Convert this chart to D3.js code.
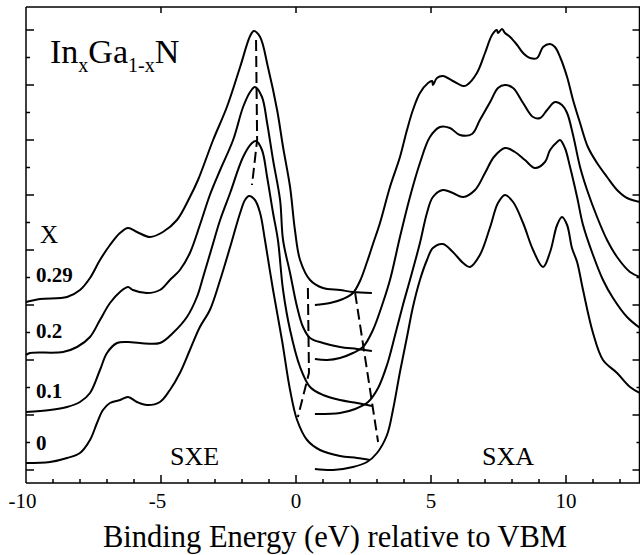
<!DOCTYPE html>
<html>
<head>
<meta charset="utf-8">
<script src="https://cdn.jsdelivr.net/npm/d3@7"></script>
<style>
  html, body { margin: 0; padding: 0; background: #fff; }
  svg { display: block; }
</style>
</head>
<body>
<svg id="chart" width="640" height="555"></svg>
<script>
// Indium content of each InxGa1-xN sample, top trace first
const composition = ["0.29", "0.2", "0.1", "0"];

// Soft X-ray emission (valence band) spectra: [energy eV, intensity (offset, arb. units)]
const sxe029 = [[-10.00,181],[-9.48,184],[-8.48,186],[-8.00,193],[-7.63,205],[-7.26,223],[-6.89,238],[-6.52,250],[-6.22,255],[-5.89,251],[-5.41,246],[-4.93,251],[-4.41,263],[-3.93,286],[-3.63,303],[-3.07,343],[-2.56,376],[-2.07,416],[-1.70,447],[-1.56,452],[-1.33,446],[-1.04,416],[-0.70,373],[-0.48,336],[-0.22,296],[-0.04,253],[0.15,223],[0.52,203],[1.00,195],[1.63,193],[2.11,191],[2.81,190]];
const sxe02 = [[-10.00,128],[-9.85,130],[-8.63,131],[-8.11,136],[-7.63,146],[-7.26,163],[-6.89,180],[-6.52,191],[-6.22,196],[-6.04,193],[-5.52,190],[-5.04,193],[-4.67,203],[-4.30,213],[-3.93,230],[-3.56,258],[-3.19,288],[-2.81,313],[-2.33,343],[-1.96,376],[-1.70,391],[-1.52,396],[-1.26,386],[-1.07,360],[-0.85,323],[-0.59,283],[-0.48,243],[-0.22,210],[0.04,176],[0.26,156],[0.52,145],[1.00,140],[1.63,136],[2.26,134],[2.81,132]];
const sxe01 = [[-10.00,71],[-9.11,73],[-8.48,76],[-8.00,81],[-7.63,90],[-7.26,113],[-7.00,130],[-6.63,140],[-6.22,141],[-5.78,140],[-5.04,140],[-4.56,150],[-4.04,166],[-3.67,186],[-3.44,206],[-3.11,236],[-2.81,263],[-2.44,290],[-1.96,326],[-1.63,340],[-1.48,342],[-1.26,333],[-1.07,306],[-0.85,270],[-0.67,243],[-0.48,193],[-0.22,153],[0.15,116],[0.52,96],[1.00,88],[1.63,83],[2.26,80],[2.81,77]];
const sxe0 = [[-10.00,20],[-9.11,21],[-8.48,25],[-8.00,30],[-7.63,43],[-7.37,60],[-7.15,73],[-6.89,80],[-6.52,83],[-6.22,86],[-5.89,81],[-5.52,78],[-5.04,81],[-4.67,93],[-4.30,110],[-3.93,133],[-3.56,156],[-3.19,173],[-2.81,203],[-2.44,236],[-2.07,270],[-1.89,283],[-1.74,287],[-1.52,283],[-1.33,270],[-1.15,243],[-0.85,193],[-0.52,143],[-0.22,93],[0.04,63],[0.41,43],[0.89,33],[1.63,27],[2.26,25],[2.74,23]];

// Soft X-ray absorption (conduction band) spectra
const sxa029 = [[0.70,178],[1.26,180],[1.74,184],[2.11,190],[2.37,202],[2.63,221],[2.85,239],[3.11,260],[3.48,296],[3.85,326],[4.11,353],[4.33,373],[4.59,390],[4.89,400],[5.04,402],[5.07,398],[5.22,405],[5.44,407],[5.81,402],[6.19,397],[6.33,398],[6.70,410],[7.00,430],[7.26,448],[7.44,453],[7.48,450],[7.63,454],[7.74,450],[7.93,446],[8.19,438],[8.41,430],[8.67,425],[8.93,425],[9.15,436],[9.41,439],[9.59,436],[9.78,426],[10.04,406],[10.26,383],[10.52,360],[10.81,336],[11.15,320],[11.52,306],[11.89,293],[12.26,285],[12.74,281]];
const sxa02 = [[0.70,124],[1.15,123],[1.63,125],[2.11,130],[2.48,136],[2.85,153],[3.19,178],[3.48,203],[3.85,246],[4.22,286],[4.59,320],[4.96,346],[5.33,356],[5.70,355],[6.07,348],[6.52,349],[6.81,363],[7.19,381],[7.48,395],[7.74,398],[8.04,395],[8.41,380],[8.78,366],[9.04,365],[9.30,373],[9.59,381],[9.85,378],[10.04,370],[10.26,348],[10.52,316],[10.78,293],[11.15,266],[11.52,243],[11.89,226],[12.37,211],[12.74,206]];
const sxa01 = [[0.70,69],[1.63,70],[2.19,74],[2.67,81],[3.04,95],[3.37,118],[3.67,148],[3.96,178],[4.22,203],[4.59,240],[4.85,270],[5.07,286],[5.44,293],[5.81,290],[6.19,286],[6.63,293],[7.00,310],[7.33,326],[7.74,335],[8.11,331],[8.48,323],[8.85,315],[9.22,321],[9.41,333],[9.67,341],[9.78,343],[9.96,335],[10.15,316],[10.41,286],[10.63,258],[11.00,228],[11.37,203],[11.74,185],[12.26,166],[12.74,155]];
const sxa0 = [[0.70,14],[1.37,13],[2.11,16],[2.63,21],[3.00,30],[3.37,48],[3.59,73],[3.85,111],[4.11,146],[4.33,176],[4.59,203],[4.85,223],[5.07,235],[5.44,239],[5.81,231],[6.19,220],[6.44,216],[6.81,228],[7.19,256],[7.48,280],[7.74,288],[8.04,281],[8.41,260],[8.78,233],[9.15,216],[9.41,231],[9.67,258],[9.85,266],[10.04,258],[10.22,235],[10.41,221],[10.63,193],[11.00,150],[11.37,123],[11.89,110],[12.37,96],[12.74,90]];

// Guide lines: SXE peak position, valence-band onset, conduction-band onset
const sxePeakTrend = [[-1.48,443],[-1.44,343],[-1.63,298]];
const sxeOnset = [[0.44,195],[0.48,110],[0.07,66]];
const sxaOnset = [[2.19,190],[3.04,41]];

// Axis ticks
const energyLabels = [-10, -5, 0, 5, 10];
const energyMinor = d3.range(-9, 13);
const intensityTicks = d3.range(0, 17).map(k => 13 + 27.5 * k);

const sxeSpectra = [sxe029, sxe02, sxe01, sxe0];
const sxaSpectra = [sxa029, sxa02, sxa01, sxa0];

// ---- layout ----
const SERIF = "'Liberation Serif'";
const plotLeft = 26, plotRight = 639.5, plotTop = 7, plotBottom = 483;
const x = d3.scaleLinear().domain([-10, 12.74]).range([plotLeft, 640]);
const y = d3.scaleLinear().domain([0, 476]).range([plotBottom, plotTop]);

const svg = d3.select("#chart");
svg.append("rect").attr("width", 640).attr("height", 555).attr("fill", "#fff");

const line = d3.line()
  .x(d => x(d[0]))
  .y(d => y(d[1]))
  .curve(d3.curveCatmullRom.alpha(0.5));

const plot = svg.append("g");

// spectra
plot.selectAll("path.sxe").data(sxeSpectra).join("path")
  .attr("class", "sxe")
  .attr("d", line)
  .attr("fill", "none").attr("stroke", "#000").attr("stroke-width", 2)
  .attr("stroke-linejoin", "round");

plot.selectAll("path.sxa").data(sxaSpectra).join("path")
  .attr("class", "sxa")
  .attr("d", line)
  .attr("fill", "none").attr("stroke", "#000").attr("stroke-width", 2)
  .attr("stroke-linejoin", "round");

// dashed guides
const straight = d3.line().x(d => x(d[0])).y(d => y(d[1]));
plot.selectAll("path.guide").data([sxePeakTrend, sxeOnset, sxaOnset]).join("path")
  .attr("class", "guide")
  .attr("d", straight)
  .attr("fill", "none").attr("stroke", "#000").attr("stroke-width", 2)
  .attr("stroke-dasharray", "11,5");

// ---- frame and ticks ----
const frame = svg.append("g").attr("stroke", "#000").attr("stroke-width", 1.5).attr("fill", "none");
frame.append("line").attr("x1", plotLeft).attr("x2", plotLeft).attr("y1", plotTop).attr("y2", plotBottom);
frame.append("line").attr("x1", plotLeft).attr("x2", 640).attr("y1", plotBottom).attr("y2", plotBottom);
frame.append("line").attr("x1", plotLeft).attr("x2", 640).attr("y1", plotTop).attr("y2", plotTop);
frame.append("line").attr("x1", plotRight).attr("x2", plotRight).attr("y1", plotTop).attr("y2", plotBottom);

// bottom ticks (inward)
frame.selectAll("line.bt").data(energyMinor).join("line")
  .attr("class", "bt")
  .attr("x1", d => x(d)).attr("x2", d => x(d))
  .attr("y1", plotBottom).attr("y2", d => plotBottom - (d % 5 === 0 ? 8 : 4));
// top ticks at labelled energies
frame.selectAll("line.tt").data(energyLabels.filter(d => d > -10)).join("line")
  .attr("class", "tt")
  .attr("x1", d => x(d)).attr("x2", d => x(d))
  .attr("y1", plotTop).attr("y2", plotTop + 6);
// left and right ticks
frame.selectAll("line.lt").data(intensityTicks).join("line")
  .attr("class", "lt")
  .attr("x1", plotLeft).attr("x2", (d, i) => plotLeft + (i % 2 === 0 ? 8 : 4))
  .attr("y1", d => y(d)).attr("y2", d => y(d));
frame.selectAll("line.rt").data(intensityTicks).join("line")
  .attr("class", "rt")
  .attr("x1", plotRight).attr("x2", (d, i) => plotRight - (i % 2 === 0 ? 7 : 3))
  .attr("y1", d => y(d)).attr("y2", d => y(d));

// helper for serif text
function label(parent, px, py, size, str) {
  return parent.append("text")
    .attr("x", px).attr("y", py)
    .style("font-family", SERIF)
    .style("font-size", size + "px")
    .attr("fill", "#000")
    .text(str);
}

// energy labels: digits centred on the tick, minus sign hanging to the left
const tickLabels = svg.append("g");
energyLabels.forEach(v => {
  const t = label(tickLabels, x(v), 508, 21, String(Math.abs(v))).attr("text-anchor", "middle");
  if (v < 0) {
    const w = t.node().getComputedTextLength();
    label(tickLabels, x(v) - w / 2, 508, 21, "-").attr("text-anchor", "end");
  }
});

label(svg, 335, 547, 30.5, "Binding Energy (eV) relative to VBM").attr("text-anchor", "middle");

// compound name with subscripts
const title = label(svg, 50, 63, 34, "");
title.append("tspan").text("In");
title.append("tspan").style("font-size", "20px").attr("dy", 9).text("x");
title.append("tspan").attr("dy", -9).text("Ga");
title.append("tspan").style("font-size", "20px").attr("dy", 9).text("1-x");
title.append("tspan").attr("dy", -9).text("N");

label(svg, 40, 243, 25, "X");

// composition labels beside each trace
const labelLevels = [201, 145, 85, 33];
composition.forEach((c, i) => {
  label(svg, 36, y(labelLevels[i]), 21, c).style("font-weight", "bold");
});

label(svg, 170, 465, 26, "SXE");
label(svg, 482, 465, 26, "SXA");
</script>
</body>
</html>
